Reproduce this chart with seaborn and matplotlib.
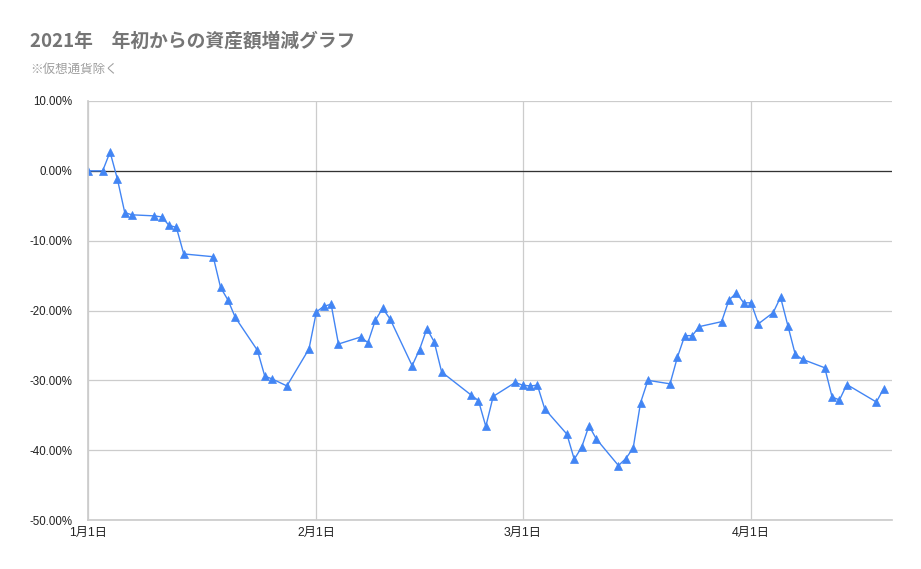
import numpy as np
import pandas as pd
import matplotlib
matplotlib.use("Agg")
import matplotlib.pyplot as plt
from matplotlib.ticker import FuncFormatter
import seaborn as sns

# Data (percent change since Jan 1)
dates = [
    "2021-01-01", "2021-01-03", "2021-01-04", "2021-01-05", "2021-01-06", "2021-01-07",
    "2021-01-10", "2021-01-11", "2021-01-12", "2021-01-13", "2021-01-14", "2021-01-18",
    "2021-01-19", "2021-01-20", "2021-01-21", "2021-01-24", "2021-01-25", "2021-01-26",
    "2021-01-28", "2021-01-31", "2021-02-01", "2021-02-02", "2021-02-03", "2021-02-04",
    "2021-02-07", "2021-02-08", "2021-02-09", "2021-02-10", "2021-02-11", "2021-02-14",
    "2021-02-15", "2021-02-16", "2021-02-17", "2021-02-18", "2021-02-22", "2021-02-23",
    "2021-02-24", "2021-02-25", "2021-02-28", "2021-03-01", "2021-03-02", "2021-03-03",
    "2021-03-04", "2021-03-07", "2021-03-08", "2021-03-09", "2021-03-10", "2021-03-11",
    "2021-03-14", "2021-03-15", "2021-03-16", "2021-03-17", "2021-03-18", "2021-03-21",
    "2021-03-22", "2021-03-23", "2021-03-24", "2021-03-25", "2021-03-28", "2021-03-29",
    "2021-03-30", "2021-03-31", "2021-04-01", "2021-04-02", "2021-04-04", "2021-04-05",
    "2021-04-06", "2021-04-07", "2021-04-08", "2021-04-11", "2021-04-12", "2021-04-13",
    "2021-04-14", "2021-04-18", "2021-04-19",
]
change_pct = [
    0.0, 0.0, 2.7, -1.2, -6.0, -6.3,
    -6.45, -6.6, -7.8, -8.1, -11.9, -12.3,
    -16.7, -18.5, -21.0, -25.7, -29.4, -29.8,
    -30.8, -25.5, -20.2, -19.4, -19.1, -24.8,
    -23.8, -24.6, -21.4, -19.7, -21.2, -27.9,
    -25.6, -22.6, -24.5, -28.8, -32.1, -32.9,
    -36.6, -32.3, -30.3, -30.7, -30.8, -30.7,
    -34.1, -37.7, -41.3, -39.6, -36.5, -38.4,
    -42.2, -41.2, -39.7, -33.2, -30.0, -30.5,
    -26.7, -23.6, -23.6, -22.3, -21.6, -18.5,
    -17.5, -18.9, -18.9, -21.9, -20.3, -18.1,
    -22.2, -26.3, -27.0, -28.2, -32.4, -32.8,
    -30.6, -33.1, -31.2,
]
tick_dates = ["2021-01-01", "2021-02-01", "2021-03-01", "2021-04-01"]
tick_labels = ["1月1日", "2月1日", "3月1日", "4月1日"]
title = "2021年\u3000年初からの資産額増減グラフ"
subtitle = "※仮想通貨除く"

df = pd.DataFrame({"date": pd.to_datetime(dates), "change": change_pct})

sns.set_theme(style="white")
plt.rcParams["font.family"] = ["Liberation Sans", "Noto Sans CJK JP", "DejaVu Sans"]

fig = plt.figure(figsize=(9.21, 5.69), dpi=100)
ax = fig.add_axes([0.0955, 0.0861, 0.873, 0.7364])

blue = "#4285f4"
sns.lineplot(data=df, x="date", y="change", ax=ax, color=blue, linewidth=1.0,
             marker="^", markersize=5.5, markeredgecolor=blue, markeredgewidth=0.5)

ax.axhline(0, color="#333333", linewidth=0.9, zorder=1)

ax.set_ylim(-50, 10)
ax.set_yticks(np.arange(-50, 11, 10))
ax.yaxis.set_major_formatter(FuncFormatter(lambda v, p: f"{v:.2f}%"))
ax.set_xlim(pd.Timestamp("2021-01-01"), pd.Timestamp("2021-04-20 03:00"))
ax.set_xticks(pd.to_datetime(tick_dates))
ax.set_xticklabels(tick_labels)

ax.grid(True, color="#cccccc", linewidth=0.9)
ax.set_axisbelow(True)
for side in ["top", "right"]:
    ax.spines[side].set_visible(False)
ax.spines["left"].set_color("#cccccc")
ax.spines["bottom"].set_color("#cccccc")
ax.tick_params(axis="x", length=3, color="#cccccc", labelsize=8.8, labelcolor="#222222", pad=2)
ax.tick_params(axis="y", length=0, labelsize=8.3, labelcolor="#222222", pad=11)
ax.set_xlabel("")
ax.set_ylabel("")

fig.text(30 / 921, 1 - 41 / 569, title, fontsize=13.5, fontweight="bold", color="#757575",
         va="center", ha="left", family=["Noto Sans CJK JP", "DejaVu Sans"])
fig.text(30 / 921, 1 - 69 / 569, subtitle, fontsize=9, color="#9e9e9e",
         va="center", ha="left", family=["Noto Sans CJK JP", "DejaVu Sans"])

fig.savefig("out.png", dpi=100)
